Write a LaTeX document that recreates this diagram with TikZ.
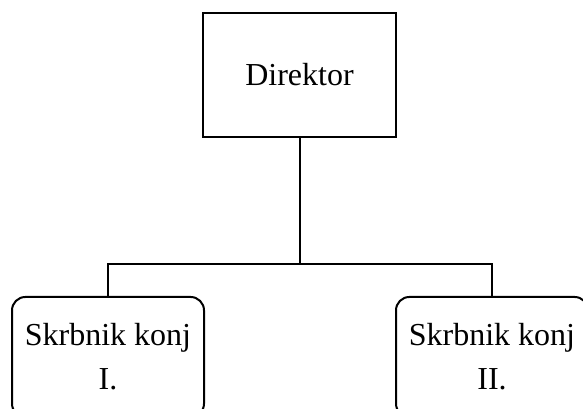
\documentclass[tikz,border=0pt]{standalone}
\usepackage{fontspec}
\setmainfont{Liberation Serif}
\begin{document}
\begin{tikzpicture}[x=0.75pt,y=-0.75pt, line width=1.5pt,
  font=\fontsize{24}{33}\selectfont,
  dirbox/.style={draw, minimum width=144.75pt, minimum height=93pt, inner sep=0pt},
  rbox/.style={draw, rounded corners=10pt, minimum width=144pt, minimum height=90pt, align=center, inner sep=0pt}]
\useasboundingbox (0,0) rectangle (583,409);
\clip (0,0) rectangle (583,409);
\node[dirbox] (dir) at (299.5,75) {Direktor};
\node[rbox] (s1) at (108,357) {Skrbnik konj\\I.};
\node[rbox] (s2) at (492,357) {Skrbnik konj\\II.};
\coordinate (j) at (299.5,264);
\draw (dir.south) -- (j);
\draw (s1.north) |- (j) -| (s2.north);
\end{tikzpicture}
\end{document}
